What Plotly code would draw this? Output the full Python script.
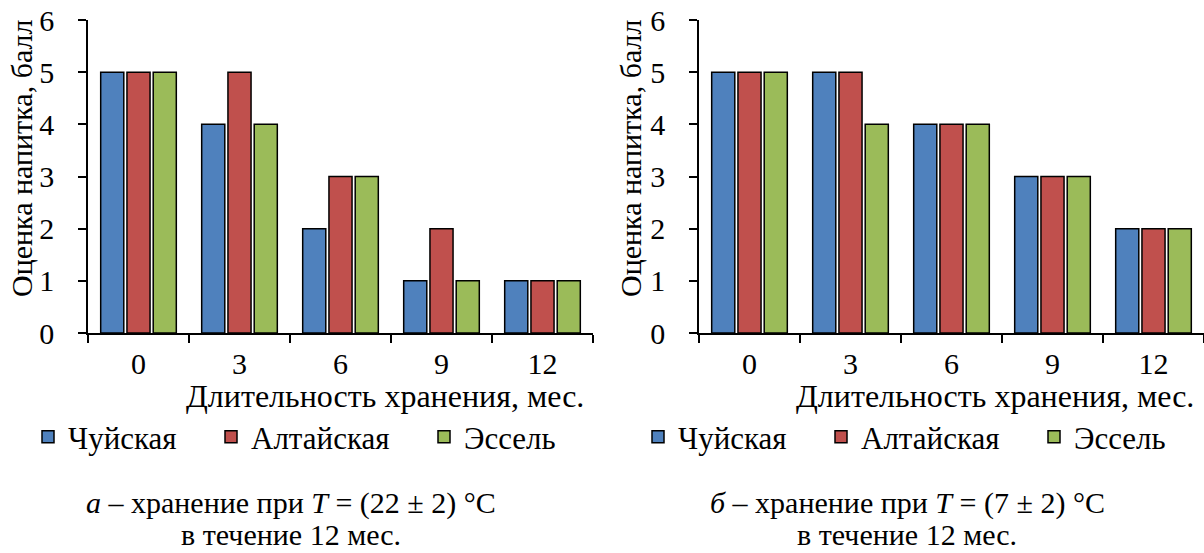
import plotly.graph_objects as go

# ---- data ----
months = ["0", "3", "6", "9", "12"]
series_names = ["Чуйская", "Алтайская", "Эссель"]
colors = ["#4F81BD", "#C0504D", "#9BBB59"]

chuy_a = [5, 4, 2, 1, 1]
alt_a = [5, 5, 3, 2, 1]
essel_a = [5, 4, 3, 1, 1]

chuy_b = [5, 5, 4, 3, 2]
alt_b = [5, 5, 4, 3, 2]
essel_b = [5, 4, 4, 3, 2]

y_ticks = [0, 1, 2, 3, 4, 5, 6]
x_title = "Длительность хранения, мес."
y_title = "Оценка напитка, балл"
caption_a = "<i>а</i> – хранение при <i>T</i> = (22 ± 2) °C"
caption_b = "<i>б</i> – хранение при <i>T</i> = (7 ± 2) °C"
caption_2 = "в течение 12 мес."

W, H = 1204, 553
FONT = "Liberation Serif"
FS_TICK = 30
FS_XT = 32
FS_YT = 30
FS_LEG = 31
FS_CAP = 30


def px(x):
    return x / W


def py(y):
    return 1 - y / H


fig = go.Figure()

legend_widths = [138, 168, 120]
for vals, name, col, lw in zip([chuy_a, alt_a, essel_a], series_names, colors, legend_widths):
    fig.add_trace(go.Bar(x=months, y=vals, name=name, marker=dict(color=col, line=dict(color="black", width=1.5)),
                         xaxis="x", yaxis="y", legend="legend", legendwidth=lw))
for vals, name, col, lw in zip([chuy_b, alt_b, essel_b], series_names, colors, legend_widths):
    fig.add_trace(go.Bar(x=months, y=vals, name=name, marker=dict(color=col, line=dict(color="black", width=1.5)),
                         xaxis="x2", yaxis="y2", legend="legend2", legendwidth=lw))

ydom = [py(333), py(20)]
axis_common_x = dict(type="category", showline=True, linecolor="black", linewidth=1.5,
                     ticks="outside", ticklen=8, tickwidth=1.5, tickcolor="black",
                     tickson="boundaries", showgrid=False, zeroline=False, automargin=False,
                     tickfont=dict(family=FONT, size=FS_TICK, color="black"), ticklabelstandoff=3)
axis_common_y = dict(range=[0, 6], tickvals=y_ticks, showline=True, linecolor="black", linewidth=1.5,
                     ticks="outside", ticklen=8, tickwidth=1.5, tickcolor="black",
                     showgrid=False, zeroline=False, domain=ydom, automargin=False,
                     tickfont=dict(family=FONT, size=FS_TICK, color="black"), ticklabelstandoff=18)

fig.update_layout(
    template="none",
    width=W, height=H,
    margin=dict(l=0, r=0, t=0, b=0, autoexpand=False),
    paper_bgcolor="white", plot_bgcolor="white",
    font=dict(family=FONT, size=FS_TICK, color="black"),
    barmode="group", bargap=0.22, bargroupgap=0.12,
    xaxis=dict(domain=[px(88), px(593)], anchor="y", **axis_common_x),
    yaxis=dict(anchor="x", **axis_common_y),
    xaxis2=dict(domain=[px(699), 1.0], anchor="y2", **axis_common_x),
    yaxis2=dict(anchor="x2", **axis_common_y),
    legend=dict(orientation="h", x=px(28), xanchor="left", y=py(437), yanchor="middle",
                entrywidthmode="pixels", font=dict(family=FONT, size=FS_LEG, color="black"),
                bgcolor="rgba(0,0,0,0)", traceorder="normal"),
    legend2=dict(orientation="h", x=px(638), xanchor="left", y=py(437), yanchor="middle",
                 entrywidthmode="pixels", font=dict(family=FONT, size=FS_LEG, color="black"),
                 bgcolor="rgba(0,0,0,0)", traceorder="normal"),
)

ann = []
for cx in [21, 630]:
    ann.append(dict(text=y_title, x=px(cx), y=py(159), xref="paper", yref="paper", showarrow=False,
                    textangle=-90, xanchor="center", yanchor="middle", font=dict(family=FONT, size=FS_YT)))
for cx in [385, 995]:
    ann.append(dict(text=x_title, x=px(cx), y=py(396), xref="paper", yref="paper", showarrow=False,
                    xanchor="center", yanchor="middle", font=dict(family=FONT, size=FS_XT)))
for cx, cap in [(291, caption_a), (907, caption_b)]:
    ann.append(dict(text=cap, x=px(cx), y=py(503), xref="paper", yref="paper", showarrow=False,
                    xanchor="center", yanchor="middle", font=dict(family=FONT, size=FS_CAP)))
    ann.append(dict(text=caption_2, x=px(cx), y=0.0, xref="paper", yref="paper", showarrow=False,
                    xanchor="center", yanchor="bottom", font=dict(family=FONT, size=FS_CAP)))
fig.update_layout(annotations=ann)

fig.write_html("out.html")
